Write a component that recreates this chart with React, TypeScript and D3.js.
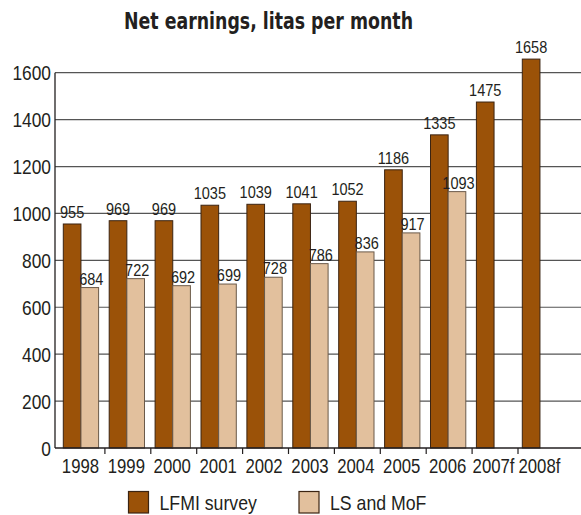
import * as d3 from 'd3'

const years = ['1998', '1999', '2000', '2001', '2002', '2003', '2004', '2005', '2006', '2007f', '2008f']
const lfmi = [955, 969, 969, 1035, 1039, 1041, 1052, 1186, 1335, 1475, 1658]
const lsMof: (number | null)[] = [684, 722, 692, 699, 728, 786, 836, 917, 1093, null, null]
const yTicks = [0, 200, 400, 600, 800, 1000, 1200, 1400, 1600]
const seriesNames = ['LFMI survey', 'LS and MoF']
const colors = ['#9b5208', '#e2c09d']

const W = 581
const H = 515
const FONT = '"Liberation Sans", Arial, sans-serif'

// texto estreito (fonte condensada simulada)
function T({ x, y, size, anchor = 'start', sx = 0.87, children, weight }: any) {
  return (
    <text transform={`translate(${x},${y}) scale(${sx},1)`} textAnchor={anchor} fontSize={size}
      fontWeight={weight} fill="#231f20">{children}</text>
  )
}

export default function App() {
  const axisX = 55
  const y = d3.scaleLinear().domain([0, 1600]).range([448, 72.7])
  const x = d3.scaleBand().domain(years).range([59, 59 + 45.9 * years.length]).padding(0)
  const inner = d3.scaleBand().domain(['a', 'b']).range([4.3, 39.6]).padding(0)

  const series = [lfmi, lsMof]

  return (
    <svg width={W} height={H} style={{ position: 'absolute', left: 0, top: 0, background: '#fff' }} fontFamily={FONT}>
      {/* titulo */}
      <text x={124} y={28.5} fontSize={23} fontWeight="bold" fill="#231f20"
        fontFamily='"DejaVu Sans", sans-serif' textLength={289} lengthAdjust="spacingAndGlyphs">
        Net earnings, litas per month
      </text>

      {/* grade */}
      {yTicks.map(t => (
        <g key={t}>
          {t > 0 && <line x1={axisX} x2={W} y1={y(t)} y2={y(t)} stroke="#555" strokeWidth={1.2} />}
          <T x={51} y={y(t) + 7.5} anchor="end" size={19.5} sx={0.89}>{t}</T>
        </g>
      ))}

      {/* barras */}
      {series.map((vals, si) =>
        vals.map((v, i) => {
          if (v == null) return null
          const bx = (x(years[i]) as number) + (inner(si === 0 ? 'a' : 'b') as number)
          const bw = inner.bandwidth()
          return (
            <g key={si + '-' + i}>
              <rect x={bx} y={y(v)} width={bw} height={y(0) - y(v)} fill={colors[si]}
                stroke={si === 0 ? '#3b2412' : '#6b5a4a'} strokeWidth={1} />
              <T x={bx + bw / 2 + (si === 1 ? 1.5 : 0)} y={y(v) - (si === 0 ? 6 : 3)} anchor="middle" size={16.5} sx={0.88}>{v}</T>
            </g>
          )
        })
      )}

      {/* eixos */}
      <line x1={axisX} x2={axisX} y1={y(1600)} y2={y(0)} stroke="#231f20" strokeWidth={1.3} />
      <line x1={axisX} x2={W} y1={y(0)} y2={y(0)} stroke="#231f20" strokeWidth={1.3} />
      {years.slice(1).map(yr => (
        <line key={yr} x1={x(yr) as number} x2={x(yr) as number} y1={y(0)} y2={y(0) + 6} stroke="#231f20" strokeWidth={1.2} />
      ))}
      {years.map(yr => (
        <T key={yr} x={(x(yr) as number) + x.bandwidth() / 2 - 1.5} y={473} anchor="middle" size={19.5} sx={0.86}>{yr}</T>
      ))}

      {/* legenda */}
      {seriesNames.map((name, i) => {
        const lx = i === 0 ? 128.5 : 299
        return (
          <g key={name}>
            <rect x={lx} y={491.5} width={20} height={21.5} fill={colors[i]} stroke="#3b2412" strokeWidth={1.2} />
            <T x={lx + 31} y={509.5} size={20} sx={0.885}>{name}</T>
          </g>
        )
      })}
    </svg>
  )
}
